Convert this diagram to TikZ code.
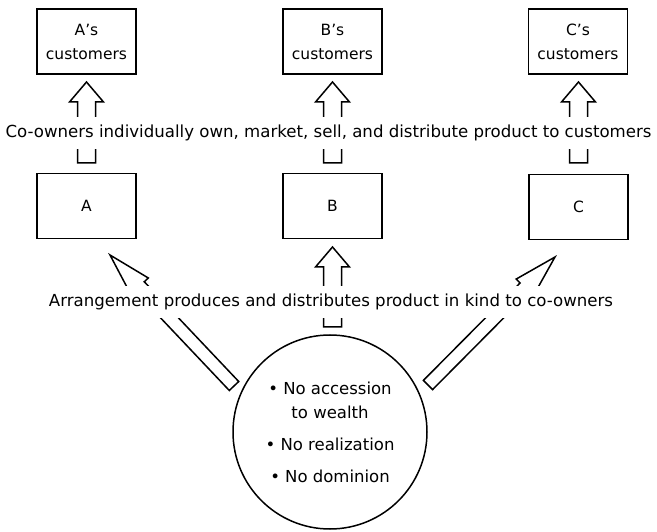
\documentclass[tikz,border=0pt]{standalone}
\usepackage{fontspec}
\setmainfont{DejaVu Sans}
\usetikzlibrary{calc}
\tikzset{
  box/.style={draw, line width=1.5pt, minimum width=99pt, minimum height=65pt, align=center, inner sep=0pt,
    font=\fontsize{15.5}{24}\selectfont},
  blockarr/.style={draw, line width=1.5pt, line join=miter},
  label/.style={fill=white, inner xsep=2pt, inner ysep=8pt, font=\fontsize{16.6}{18}\selectfont},
  round/.style={draw, circle, line width=1.5pt, minimum size=194pt, inner sep=0pt, align=center,
    font=\fontsize{16.5}{24}\selectfont}
}
\newcommand\blockarrow[5]{%
  \coordinate (hb) at ($(#2)!#5!(#1)$);
  \draw[blockarr] ($(#1)!#3!90:(#2)$) -- ($(hb)!#3!90:(#2)$) -- ($(hb)!#4!90:(#2)$) -- (#2)
     -- ($(hb)!#4!-90:(#2)$) -- ($(hb)!#3!-90:(#2)$) -- ($(#1)!#3!-90:(#2)$) -- cycle;}
\begin{document}
\begin{tikzpicture}[x=1pt,y=-1pt]
\useasboundingbox (0,0) rectangle (657,532);
% boxes
\node[box] (ac) at (86.5,41.5) {A’s\\customers};
\node[box] (bc) at (332.5,41.5) {B’s\\customers};
\node[box] (cc) at (578,41.5) {C’s\\customers};
\node[box] (a) at (86.5,206) {A};
\node[box] (b) at (332.5,206) {B};
\node[box] (c) at (578.5,207) {C};
\node[round] (circ) at (330,432) {• No accession\\to wealth\\[8pt]• No realization\\[8pt]• No dominion};
% arrow end points
\coordinate (at1) at (86.5,163);  \coordinate (ah1) at (86.5,82);
\coordinate (bt1) at (332.5,163); \coordinate (bh1) at (332.5,82);
\coordinate (ct1) at (578.5,163); \coordinate (ch1) at (578.5,82);
\coordinate (bt2) at (332.5,327); \coordinate (bh2) at (332.5,247);
\coordinate (lt) at (234,386);    \coordinate (lh) at (110,255);
\coordinate (rt) at (428,385);    \coordinate (rh) at (555,257);
\blockarrow{at1}{ah1}{9pt}{17pt}{20pt}
\blockarrow{bt1}{bh1}{9pt}{17pt}{20pt}
\blockarrow{ct1}{ch1}{9pt}{17pt}{20pt}
\blockarrow{bt2}{bh2}{9pt}{17pt}{20pt}
\blockarrow{lt}{lh}{6.5pt}{12pt}{43pt}
\blockarrow{rt}{rh}{6.5pt}{12pt}{43pt}
% labels
\node[label] (top) at (328.5,133) {Co-owners individually own, market, sell, and distribute product to customers};
\node[label] (bot) at (331,302) {Arrangement produces and distributes product in kind to co-owners};
\end{tikzpicture}
\end{document}
